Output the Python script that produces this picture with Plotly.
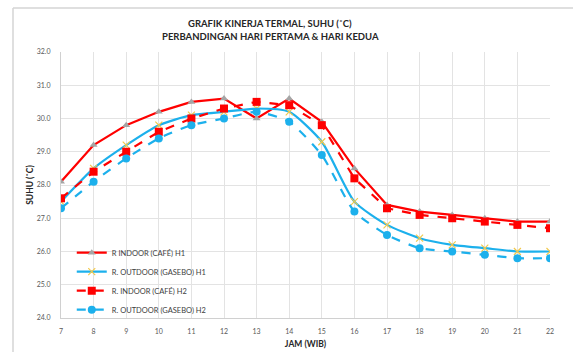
import plotly.graph_objects as go

hours = list(range(7, 23))
indoor_h1 = [28.1, 29.2, 29.8, 30.2, 30.5, 30.6, 30.0, 30.6, 29.9, 28.5, 27.4, 27.2, 27.1, 27.0, 26.9, 26.9]
outdoor_h1 = [27.5, 28.5, 29.2, 29.8, 30.1, 30.2, 30.3, 30.2, 29.3, 27.5, 26.8, 26.4, 26.2, 26.1, 26.0, 26.0]
indoor_h2 = [27.6, 28.4, 29.0, 29.6, 30.0, 30.3, 30.5, 30.4, 29.8, 28.2, 27.3, 27.1, 27.0, 26.9, 26.8, 26.7]
outdoor_h2 = [27.3, 28.1, 28.8, 29.4, 29.8, 30.0, 30.2, 29.9, 28.9, 27.2, 26.5, 26.1, 26.0, 25.9, 25.8, 25.8]
y_ticks = [24.0, 25.0, 26.0, 27.0, 28.0, 29.0, 30.0, 31.0, 32.0]

RED = "#FF0000"
CYAN = "#1CB0EC"
FONT = "Lato"

fig = go.Figure()
fig.add_trace(go.Scatter(x=hours, y=indoor_h1, name="R INDOOR (CAFÉ) H1", mode="lines+markers",
                         line=dict(color=RED, width=2.2),
                         marker=dict(symbol="triangle-up", size=7, color="#A5A5A5")))
fig.add_trace(go.Scatter(x=hours, y=outdoor_h1, name="R. OUTDOOR (GASEBO) H1", mode="lines+markers",
                         line=dict(color=CYAN, width=2.2, shape="spline", smoothing=0.6),
                         marker=dict(symbol="x-thin", size=7, line=dict(color="#F2C94C", width=1.2))))
fig.add_trace(go.Scatter(x=hours, y=indoor_h2, name="R. INDOOR (CAFÉ) H2", mode="lines+markers",
                         line=dict(color=RED, width=2.2, dash="dash"),
                         marker=dict(symbol="square", size=8, color=RED)))
fig.add_trace(go.Scatter(x=hours, y=outdoor_h2, name="R. OUTDOOR (GASEBO) H2", mode="lines+markers",
                         line=dict(color=CYAN, width=2.2, dash="dash", shape="spline", smoothing=0.6),
                         marker=dict(symbol="circle", size=8, color=CYAN)))

pw, ph = 573 - 61 - 23, 352 - 52 - 34

fig.update_layout(
    width=573, height=352,
    margin=dict(l=61, r=23, t=52, b=34),
    paper_bgcolor="white", plot_bgcolor="white",
    font=dict(family=FONT, color="#595959", size=7),
    showlegend=True,
    legend=dict(x=0.022, y=0.3, xanchor="left", yanchor="top",
                font=dict(family=FONT, size=7.5, color="#404040"),
                bgcolor="rgba(255,255,255,0)", tracegroupgap=0, itemwidth=30),
)
anns = []
for a, py in zip(["<b>GRAFIK KINERJA TERMAL, SUHU (˚C)</b>", "<b>PERBANDINGAN HARI PERTAMA &amp; HARI KEDUA</b>"], [24, 37]):
    anns.append(dict(text=a, x=(270 - 61) / pw, y=(352 - 34 - py) / ph, xref="paper", yref="paper",
                     xanchor="center", yanchor="middle", showarrow=False,
                     font=dict(family=FONT, size=9.5, color="#262626")))
fig.update_layout(annotations=anns)

fig.update_xaxes(range=[7, 22], tickmode="array", tickvals=hours, ticktext=[str(h) for h in hours],
                 showgrid=True, gridcolor="#E3E3E3", gridwidth=1, zeroline=False, automargin=False,
                 showline=True, linecolor="#D0D0D0", ticks="", ticklabelstandoff=7,
                 title=dict(text="<b>JAM (WIB)</b>", font=dict(family=FONT, size=8.5, color="#262626"), standoff=6))
fig.update_yaxes(range=[24, 32], tickmode="array", tickvals=y_ticks, tickformat=".1f",
                 showgrid=True, gridcolor="#E3E3E3", gridwidth=1, zeroline=False, automargin=False,
                 showline=True, linecolor="#D0D0D0", ticks="", ticklabelstandoff=8,
                 title=dict(text="<b>SUHU (˚C)</b>", font=dict(family=FONT, size=8.5, color="#262626"), standoff=1))

# chart frame (left and top border)
fig.add_shape(type="line", xref="paper", yref="paper", x0=(13 - 61) / pw, x1=(13 - 61) / pw,
              y0=-34 / ph, y1=(352 - 34 - 8) / ph, line=dict(color="#D4D4D4", width=1.5))
fig.add_shape(type="line", xref="paper", yref="paper", x0=(13 - 61) / pw, x1=(573 - 61) / pw,
              y0=(352 - 34 - 8) / ph, y1=(352 - 34 - 8) / ph, line=dict(color="#D4D4D4", width=1.5))

fig.write_html("out.html")
